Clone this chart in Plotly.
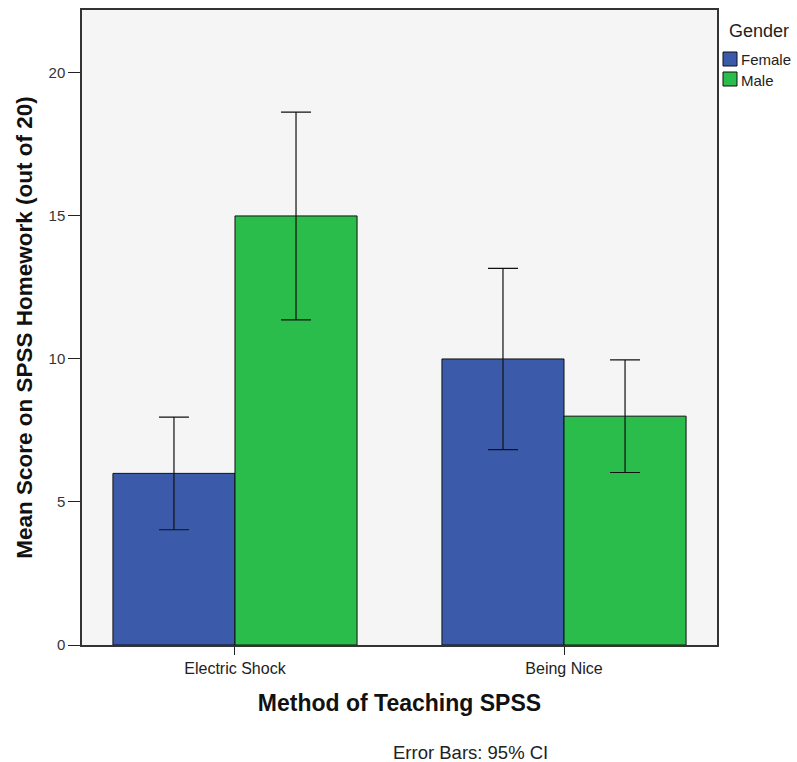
import plotly.graph_objects as go

methods = ["Electric Shock", "Being Nice"]
genders = ["Female", "Male"]
female_mean = [6.0, 10.0]
female_lo = [4.03, 6.83]
female_hi = [7.97, 13.17]
male_mean = [15.0, 8.0]
male_lo = [11.37, 6.03]
male_hi = [18.63, 9.97]
y_ticks = [0, 5, 10, 15, 20]

colors = ["#3B5BAA", "#2BBD4B"]
FONT = "Arial, Liberation Sans, sans-serif"

def err(mean, lo, hi):
    return dict(type="data", symmetric=False,
                array=[h - m for h, m in zip(hi, mean)],
                arrayminus=[m - l for m, l in zip(mean, lo)],
                color="#111111", thickness=1.2, width=15)

fig = go.Figure()
for name, mean, lo, hi, col in [(genders[0], female_mean, female_lo, female_hi, colors[0]),
                                (genders[1], male_mean, male_lo, male_hi, colors[1])]:
    fig.add_trace(go.Bar(name=name, x=methods, y=mean, showlegend=False,
                         marker=dict(color=col, line=dict(color="#111111", width=1)),
                         error_y=err(mean, lo, hi)))

# manual legend (container pixel positions converted to paper coords)
L, R, T, B = 82, 80, 10, 117
W, H = 797, 762
pw, ph = W - L - R, H - T - B
def px(x):
    return (x - L) / pw
def py(y):
    return (H - B - y) / ph

shapes = []
annotations = [dict(text="Gender", xref="paper", yref="paper", x=px(727), y=py(31),
                    xanchor="left", yanchor="middle", showarrow=False,
                    font=dict(size=18, color="#222222"))]
for i, (name, col) in enumerate(zip(genders, colors)):
    yc = 59 + i * 20
    shapes.append(dict(type="rect", xref="paper", yref="paper",
                       x0=px(723), x1=px(737), y0=py(yc - 7), y1=py(yc + 7),
                       fillcolor=col, line=dict(color="#111111", width=1)))
    annotations.append(dict(text=name, xref="paper", yref="paper", x=px(739), y=py(yc + 1),
                            xanchor="left", yanchor="middle", showarrow=False,
                            font=dict(size=15, color="#222222")))

annotations.append(dict(text="Error Bars: 95% CI", xref="paper", yref="paper",
                        x=px(470), y=py(752), xanchor="center", yanchor="middle",
                        showarrow=False, font=dict(size=18.5, color="#222222")))

fig.update_layout(
    width=W, height=H,
    margin=dict(l=L, r=R, t=T, b=B, autoexpand=False),
    paper_bgcolor="white", plot_bgcolor="#F5F5F5",
    barmode="group", bargap=0.258, bargroupgap=0,
    font=dict(family=FONT, color="#222222", size=12),
    showlegend=False,
    xaxis=dict(range=[-0.465, 1.465], showline=True, linecolor="#333333", linewidth=1.5,
               mirror=True, ticks="outside", ticklen=8, tickcolor="#222222",
               tickfont=dict(size=16, color="#222222"),
               title=dict(text="<b>Method of Teaching SPSS</b>", font=dict(size=23, color="#111111"), standoff=19)),
    yaxis=dict(range=[0, 22.2], showline=True, linecolor="#333333", linewidth=1.5,
               mirror=True, ticks="outside", ticklen=12, tickcolor="#222222",
               tickvals=y_ticks, showgrid=False, zeroline=False,
               tickfont=dict(size=15, color="#333333"),
               title=dict(text="<b>Mean Score on SPSS Homework (out of 20)</b>",
                          font=dict(size=22.5, color="#111111"), standoff=10)),
    shapes=shapes,
    annotations=annotations,
)

fig.write_html("out.html")
